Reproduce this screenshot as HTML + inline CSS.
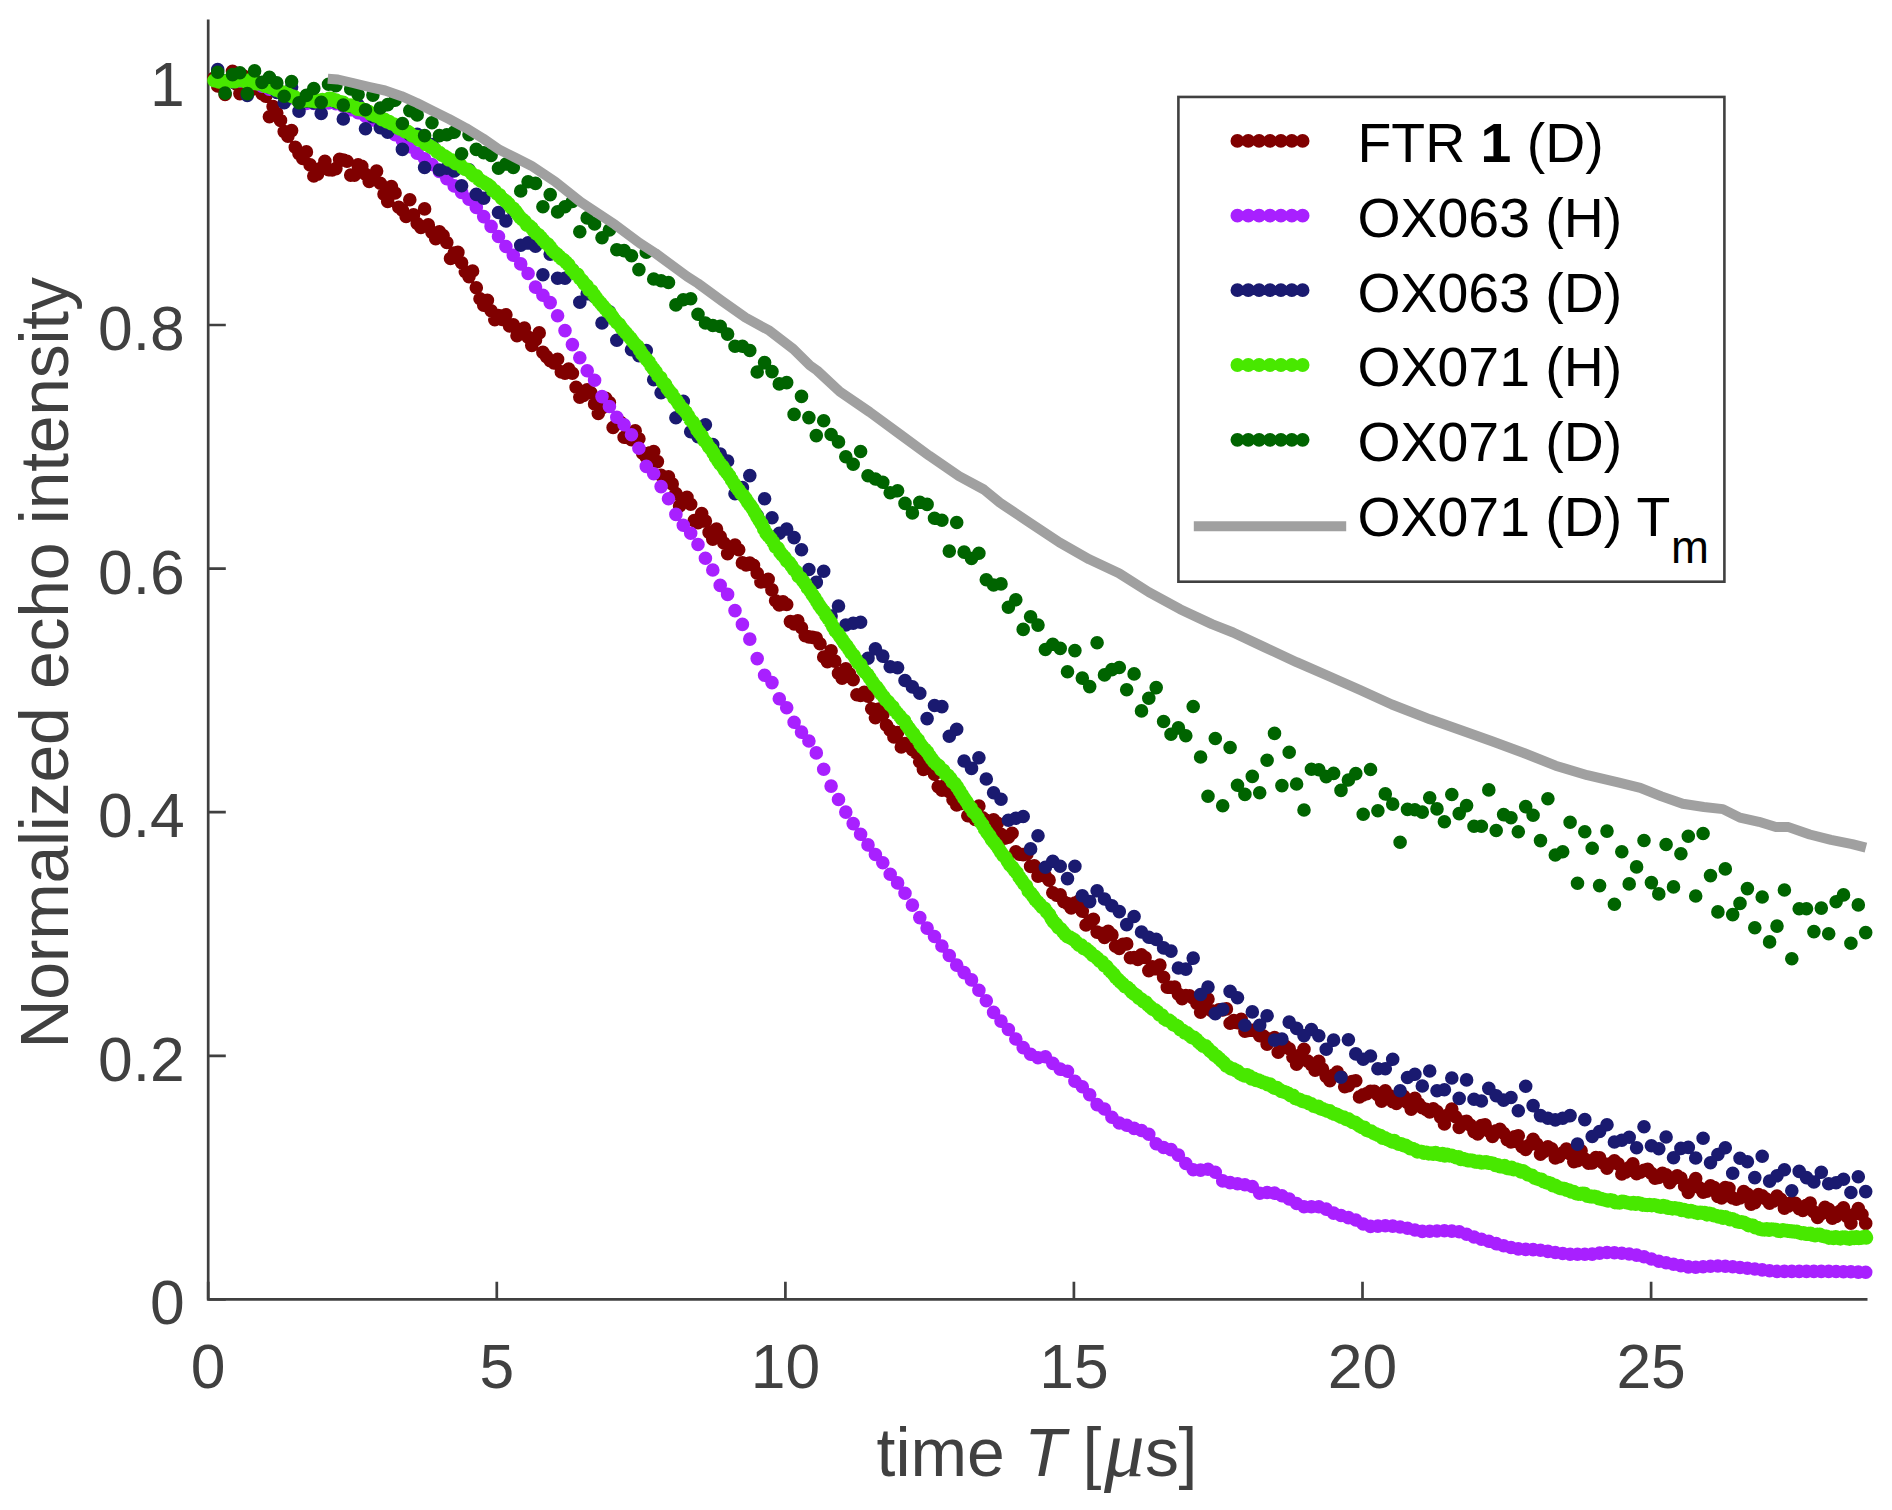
<!DOCTYPE html>
<html><head><meta charset="utf-8"><title>plot</title><style>html,body{margin:0;padding:0;background:#fff}svg{display:block}</style></head><body>
<svg width="1892" height="1510" viewBox="0 0 1892 1510">
<rect width="1892" height="1510" fill="#fff"/>
<path d="M208.2 19.6V1299.4H1867.5" stroke="#404040" stroke-width="2.7" fill="none"/>
<path d="M208.2 1299.4v-17.6M496.8 1299.4v-17.6M785.4 1299.4v-17.6M1073.9 1299.4v-17.6M1362.5 1299.4v-17.6M1651.1 1299.4v-17.6M208.2 1299.4h17.6M208.2 1055.8h17.6M208.2 812.2h17.6M208.2 568.6h17.6M208.2 325h17.6M208.2 81.4h17.6" stroke="#404040" stroke-width="2.7" fill="none"/>
<path d="M214 78h0M217.7 86h0M221.4 82h0M225.1 94.5h0M228.8 80h0M232.5 71.3h0M236.2 84h0M239.9 93.6h0M243.6 76h0M247.3 86h0M250.9 90h0M254.6 80h0M258.3 88h0M262 93.6h0M265.7 96.3h0M269.4 116.7h0M273.1 106.5h0M276.8 113h0M280.5 120.4h0M284.2 131.6h0M287.9 136.2h0M291.6 130.6h0M295.3 147.3h0M299 153.8h0M302.7 158.4h0M306.4 151.9h0M310.1 164.9h0M313.8 176h0M317.5 174.2h0M321.2 168h0M324.9 161.2h0M328.5 169.6h0M332.2 170h0M335.9 168.6h0M339.6 159.4h0M343.3 160h0M347 161.2h0M350.7 175.1h0M354.4 175.1h0M358.1 164.9h0M361.8 166.4h0M365.5 174.3h0M369.2 181.4h0M372.9 176.9h0M376.6 171.1h0M380.3 183.3h0M384 194.1h0M387.7 201.5h0M391.4 186.6h0M395.1 193h0M398.8 207.2h0M402.4 210.3h0M406.1 216.4h0M409.8 199.8h0M413.5 214.9h0M417.2 223.5h0M420.9 227.5h0M424.6 208.9h0M428.3 224.9h0M432 232.5h0M435.7 238.8h0M439.4 231.9h0M443.1 235.6h0M446.8 242.5h0M450.5 258.5h0M454.2 253.1h0M457.9 252.3h0M461.6 262.7h0M465.3 271.7h0M469 276.6h0M472.6 271h0M476.3 287.7h0M480 298.8h0M483.7 305.1h0M487.4 300.2h0M491.1 310.7h0M494.8 319.7h0M498.5 315.5h0M502.2 319.4h0M505.9 314.8h0M509.6 326h0M513.3 324.9h0M517 335.7h0M520.7 330.1h0M524.4 328.1h0M528.1 337.1h0M531.8 345.4h0M535.5 339.9h0M539.2 332.9h0M542.9 352.4h0M546.5 356.6h0M550.2 360.7h0M553.9 362.9h0M557.6 359.3h0M561.3 371.9h0M565 373.3h0M568.7 369.1h0M572.4 373.3h0M576.1 387.2h0M579.8 397.1h0M583.5 395.5h0M587.2 389.9h0M590.9 392.7h0M594.6 403.9h0M598.3 413.5h0M602 408h0M605.7 398.3h0M609.4 402.5h0M613.1 427.5h0M616.8 423.7h0M620.5 422.2h0M624.1 437.2h0M627.8 437.4h0M631.5 439.7h0M635.2 430.9h0M638.9 438.7h0M642.6 453.1h0M646.3 457h0M650 452.9h0M653.7 451.5h0M657.4 461.6h0M661.1 475.2h0M664.8 479.7h0M668.5 476.7h0M672.2 483.9h0M675.9 493.5h0M679.6 505.9h0M683.3 501h0M687 497.2h0M690.7 504.3h0M694.3 520.6h0M698 522.7h0M701.7 513.5h0M705.4 521.1h0M709.1 532.4h0M712.8 539.2h0M716.5 529.1h0M720.2 536.6h0M723.9 543h0M727.6 553.6h0M731.3 547.9h0M735 545.1h0M738.7 549.7h0M742.4 562.9h0M746.1 564.9h0M749.8 563h0M753.5 565.3h0M757.2 573.2h0M760.9 581.9h0M764.6 581.5h0M768.2 579.2h0M771.9 589.9h0M775.6 600.8h0M779.3 604.9h0M783 601.8h0M786.7 604.5h0M790.4 621.6h0M794.1 623.9h0M797.8 620.8h0M801.5 627.7h0M805.2 635.8h0M808.9 636.9h0M812.6 637.4h0M816.3 638.1h0M820 643.7h0M823.7 657h0M827.4 661.6h0M831.1 650.7h0M834.8 661.1h0M838.5 673.4h0M842.1 678.1h0M845.8 668.7h0M849.5 673.8h0M853.2 679.7h0M856.9 694.8h0M860.6 695.5h0M864.3 692.2h0M868 696.2h0M871.7 708.8h0M875.4 717.8h0M879.1 709h0M882.8 714.8h0M886.5 725.3h0M890.2 730.2h0M893.9 736.9h0M897.6 732.6h0M901.3 747h0M905 743.6h0M908.7 744.1h0M912.4 749.8h0M916 752.8h0M919.7 761.8h0M923.4 769.4h0M927.1 761.2h0M930.8 765.5h0M934.5 774.2h0M938.2 786.7h0M941.9 790.2h0M945.6 784.6h0M949.3 791.6h0M953 799.8h0M956.7 805h0M960.4 803.6h0M964.1 802.7h0M967.8 815.8h0M971.5 814.6h0M975.2 819.5h0M978.9 806h0M982.6 817.8h0M986.3 820.3h0M989.9 828.9h0M993.6 819.7h0M997.3 823.1h0M1001 834.4h0M1004.7 838.3h0M1008.4 837.3h0M1012.1 833.3h0M1015.8 851.7h0M1019.5 854.1h0M1023.2 854.6h0M1026.9 853.9h0M1030.6 866.4h0M1034.3 865.7h0M1038 876.3h0M1041.7 870.7h0M1045.4 876.1h0M1049.1 880.1h0M1052.8 892.8h0M1056.5 895.1h0M1060.2 894.9h0M1063.8 901.8h0M1067.5 903.6h0M1071.2 908h0M1074.9 903.1h0M1078.6 901.3h0M1082.3 911.3h0M1086 925h0M1089.7 921.1h0M1093.4 919.3h0M1097.1 932.1h0M1100.8 933.3h0M1104.5 937.4h0M1108.2 931.4h0M1111.9 934.9h0M1115.6 946.3h0M1119.3 948.5h0M1123 944.3h0M1126.7 943.9h0M1130.4 957.8h0M1134.1 957.6h0M1137.8 959.4h0M1141.4 954.9h0M1145.1 957.5h0M1148.8 970.6h0M1152.5 966.9h0M1156.2 968.8h0M1159.9 965.1h0M1163.6 977.3h0M1167.3 987.2h0M1171 987.2h0M1174.7 987.1h0M1178.4 994.1h0M1182.1 998.7h0M1185.8 995.6h0M1189.5 995.8h0M1193.2 998.1h0M1196.9 1003.4h0M1200.6 1012.1h0M1204.3 1004.3h0M1208 999h0M1211.7 1010.8h0M1215.3 1011.3h0M1219 1009.7h0M1222.7 1010h0M1226.4 1008.9h0M1230.1 1023.3h0M1233.8 1020.5h0M1237.5 1022.7h0M1241.2 1019.2h0M1244.9 1031.1h0M1248.6 1030.5h0M1252.3 1030.2h0M1256 1031.2h0M1259.7 1035.7h0M1263.4 1036.1h0M1267.1 1044.1h0M1270.8 1038.9h0M1274.5 1037.5h0M1278.2 1052.2h0M1281.9 1047.7h0M1285.5 1046.2h0M1289.2 1048.8h0M1292.9 1057.1h0M1296.6 1064.2h0M1300.3 1054.9h0M1304 1049.2h0M1307.7 1061.1h0M1311.4 1064.6h0M1315.1 1070.3h0M1318.8 1061.4h0M1322.5 1069h0M1326.2 1076.4h0M1329.9 1080.7h0M1333.6 1075.1h0M1337.3 1072h0M1341 1076.7h0M1344.7 1086.8h0M1348.4 1085.8h0M1352.1 1081.5h0M1355.8 1080.8h0M1359.5 1096.9h0M1363.1 1094.9h0M1366.8 1093.6h0M1370.5 1091.4h0M1374.2 1091.2h0M1377.9 1095h0M1381.6 1101.3h0M1385.3 1090.7h0M1389 1095.2h0M1392.7 1101.7h0M1396.4 1103.5h0M1400.1 1093.3h0M1403.8 1096.3h0M1407.5 1102.8h0M1411.2 1109.1h0M1414.9 1098.2h0M1418.6 1103.9h0M1422.3 1107.7h0M1426 1109.4h0M1429.7 1111.9h0M1433.3 1108.8h0M1437 1111.5h0M1440.7 1117.3h0M1444.4 1123.9h0M1448.1 1114.7h0M1451.8 1109.1h0M1455.5 1116.8h0M1459.2 1127.5h0M1462.9 1122.1h0M1466.6 1121.3h0M1470.3 1125.1h0M1474 1131.8h0M1477.7 1134h0M1481.4 1125.5h0M1485.1 1124.9h0M1488.8 1131.1h0M1492.5 1136.5h0M1496.2 1130.8h0M1499.9 1129.4h0M1503.6 1133.2h0M1507.2 1139.6h0M1510.9 1142h0M1514.6 1136.7h0M1518.3 1135.7h0M1522 1146.7h0M1525.7 1149.4h0M1529.4 1145h0M1533.1 1139.3h0M1536.8 1144.1h0M1540.5 1154.3h0M1544.2 1151.4h0M1547.9 1146.8h0M1551.6 1148.8h0M1555.3 1157.9h0M1559 1156.8h0M1562.7 1152.8h0M1566.4 1149.1h0M1570.1 1153.9h0M1573.8 1161.7h0M1577.5 1160.7h0M1581.1 1150.8h0M1584.8 1159h0M1588.5 1163.2h0M1592.2 1162.9h0M1595.9 1157.5h0M1599.6 1157.9h0M1603.3 1163.2h0M1607 1168.1h0M1610.7 1163.6h0M1614.4 1160.9h0M1618.1 1163.9h0M1621.8 1174h0M1625.5 1172.3h0M1629.2 1167.6h0M1632.9 1163.8h0M1636.6 1173.8h0M1640.3 1172.1h0M1644 1170.2h0M1647.7 1169.2h0M1651.4 1173.4h0M1655 1178.2h0M1658.7 1177.5h0M1662.4 1173.4h0M1666.1 1174.8h0M1669.8 1182.8h0M1673.5 1178.7h0M1677.2 1175.9h0M1680.9 1178h0M1684.6 1186h0M1688.3 1192.5h0M1692 1184h0M1695.7 1178.6h0M1699.4 1187.8h0M1703.1 1192.2h0M1706.8 1191.2h0M1710.5 1185.9h0M1714.2 1187.5h0M1717.9 1196.4h0M1721.6 1198h0M1725.3 1187.6h0M1729 1188.2h0M1732.6 1197.9h0M1736.3 1199.3h0M1740 1198h0M1743.7 1191.5h0M1747.4 1194h0M1751.1 1204.1h0M1754.8 1202.8h0M1758.5 1194.5h0M1762.2 1195.7h0M1765.9 1198.9h0M1769.6 1203.2h0M1773.3 1201.1h0M1777 1196h0M1780.7 1199.3h0M1784.4 1208.3h0M1788.1 1206.3h0M1791.8 1202.2h0M1795.5 1203.2h0M1799.2 1208.7h0M1802.8 1210.4h0M1806.5 1205.4h0M1810.2 1203h0M1813.9 1211.9h0M1817.6 1217.5h0M1821.3 1213.8h0M1825 1207.2h0M1828.7 1209.3h0M1832.4 1218.3h0M1836.1 1216.4h0M1839.8 1211.4h0M1843.5 1207.7h0M1847.2 1216.6h0M1850.9 1223.3h0M1854.6 1214h0M1858.3 1208.5h0M1862 1214.6h0M1865.7 1223.4h0" stroke="#800000" stroke-width="13.6" stroke-linecap="round" fill="none"/>
<path d="M217.7 81h0M225.1 81h0M232.5 81h0M239.9 81h0M247.3 81.4h0M254.6 83.4h0M262 86.3h0M269.4 89.2h0M276.8 91.9h0M284.2 94.7h0M291.6 97.7h0M299 101.3h0M306.4 103.5h0M313.8 103.4h0M321.2 103.2h0M328.5 103h0M335.9 103.6h0M343.3 106.2h0M350.7 109.6h0M358.1 112.8h0M365.5 116.1h0M372.9 119.9h0M380.3 124.3h0M387.7 129.2h0M395.1 134.6h0M402.4 140.4h0M409.8 146.8h0M417.2 153.2h0M424.6 158.7h0M432 164.5h0M439.4 171.5h0M446.8 178.6h0M454.2 185.9h0M461.6 192.4h0M469 199.2h0M476.3 207.4h0M483.7 216.6h0M491.1 226.4h0M498.5 236.5h0M505.9 246.5h0M513.3 255.2h0M520.7 263.9h0M528.1 273.5h0M535.5 287.1h0M542.9 295.2h0M550.2 302.6h0M557.6 315.8h0M565 330.6h0M572.4 344.6h0M579.8 357.7h0M587.2 370.7h0M594.6 380.3h0M602 396.6h0M609.4 406.5h0M616.8 417.3h0M624.1 424.7h0M631.5 434.7h0M638.9 448.3h0M646.3 466.4h0M653.7 473.8h0M661.1 486.6h0M668.5 498.8h0M675.9 514.4h0M683.3 525.3h0M690.7 533.2h0M698 544.5h0M705.4 558.2h0M712.8 570h0M720.2 585.4h0M727.6 594.4h0M735 610.6h0M742.4 624.4h0M749.8 639.1h0M757.2 658.6h0M764.6 675.3h0M772 682.6h0M779.3 698.8h0M786.7 707.7h0M794.1 722.3h0M801.5 732.1h0M808.9 741h0M816.3 752.9h0M823.7 769.3h0M831.1 786.1h0M838.5 799.5h0M845.8 812.1h0M853.2 823.6h0M860.6 834.2h0M868 844.9h0M875.4 854.5h0M882.8 862.8h0M890.2 874.3h0M897.6 882.9h0M905 893.2h0M912.4 905.1h0M919.8 917.6h0M927.1 928.1h0M934.5 936.5h0M941.9 946h0M949.3 955.5h0M956.7 965.1h0M964.1 972.6h0M971.5 979.9h0M978.9 990.3h0M986.3 1000.8h0M993.6 1012.4h0M1001 1021.1h0M1008.4 1029.5h0M1015.8 1039h0M1023.2 1047.6h0M1030.6 1054.2h0M1038 1057.7h0M1045.4 1056.8h0M1052.8 1063.4h0M1060.2 1069.1h0M1067.5 1071.2h0M1074.9 1081.2h0M1082.3 1086.7h0M1089.7 1094.8h0M1097.1 1104.6h0M1104.5 1109h0M1111.9 1117.2h0M1119.3 1123h0M1126.7 1125.3h0M1134.1 1128.4h0M1141.5 1130.5h0M1148.8 1134.3h0M1156.2 1143.7h0M1163.6 1147.5h0M1171 1149.6h0M1178.4 1155.1h0M1185.8 1163.5h0M1193.2 1169.8h0M1200.6 1170.1h0M1208 1169.2h0M1215.3 1172.2h0M1222.7 1180.9h0M1230.1 1182.6h0M1237.5 1183.7h0M1244.9 1184.7h0M1252.3 1186.5h0M1259.7 1193.3h0M1267.1 1192.5h0M1274.5 1193.1h0M1281.9 1195.8h0M1289.2 1199h0M1296.6 1203.5h0M1304 1206.7h0M1311.4 1206.7h0M1318.8 1206.7h0M1326.2 1209.1h0M1333.6 1213.1h0M1341 1215.5h0M1348.4 1217.6h0M1355.8 1220h0M1363.2 1224h0M1370.5 1226.4h0M1377.9 1226.1h0M1385.3 1225.8h0M1392.7 1226.1h0M1400.1 1227h0M1407.5 1228.2h0M1414.9 1230h0M1422.3 1231.4h0M1429.7 1231.3h0M1437 1231h0M1444.4 1230.8h0M1451.8 1231.1h0M1459.2 1231.8h0M1466.6 1234.2h0M1474 1237h0M1481.4 1239.2h0M1488.8 1241.3h0M1496.2 1243.6h0M1503.6 1245.7h0M1511 1247.5h0M1518.3 1248.9h0M1525.7 1249.4h0M1533.1 1249.6h0M1540.5 1250.2h0M1547.9 1251.4h0M1555.3 1252.5h0M1562.7 1253.5h0M1570.1 1254.2h0M1577.5 1254.2h0M1584.8 1254.2h0M1592.2 1254.1h0M1599.6 1253.1h0M1607 1252.5h0M1614.4 1252.7h0M1621.8 1253.2h0M1629.2 1254h0M1636.6 1255.1h0M1644 1256.7h0M1651.4 1259h0M1658.8 1261.2h0M1666.1 1262.8h0M1673.5 1264.2h0M1680.9 1265.6h0M1688.3 1266.9h0M1695.7 1267.2h0M1703.1 1266.8h0M1710.5 1266.3h0M1717.9 1266h0M1725.3 1266.2h0M1732.7 1266.7h0M1740 1267.5h0M1747.4 1268.3h0M1754.8 1269h0M1762.2 1269.9h0M1769.6 1270.8h0M1777 1271.4h0M1784.4 1271.4h0M1791.8 1271.4h0M1799.2 1271.4h0M1806.5 1271.4h0M1813.9 1271.4h0M1821.3 1271.4h0M1828.7 1271.4h0M1836.1 1271.5h0M1843.5 1271.7h0M1850.9 1271.8h0M1858.3 1272.1h0M1865.7 1272.3h0" stroke="#A820FF" stroke-width="13.6" stroke-linecap="round" fill="none"/>
<path d="M217.7 69.5h0M225.1 80.7h0M232.5 82h0M239.9 80.2h0M247.3 95.4h0M254.6 82.1h0M262 83.1h0M269.4 87.2h0M276.8 92.4h0M284.2 102.8h0M291.6 87h0M299 111.2h0M306.4 101.2h0M313.8 103h0M321.2 113.5h0M328.5 100.1h0M335.9 101.9h0M343.3 119h0M350.7 106.4h0M358.1 105.1h0M365.5 128.7h0M372.9 116.7h0M380.3 127.8h0M387.7 132.1h0M395.1 126.6h0M402.4 149.4h0M409.8 134.7h0M417.2 134.4h0M424.6 167.5h0M432 144.6h0M439.4 170h0M446.8 168.3h0M454.2 170.9h0M461.6 185.8h0M469 169.7h0M476.3 194.4h0M483.7 198.2h0M491.1 188h0M498.5 212.5h0M505.9 221h0M513.3 210.5h0M520.7 245.2h0M528.1 242.9h0M535.5 246.3h0M542.9 274.7h0M550.2 254.1h0M557.6 278.2h0M565 278.2h0M572.4 269.8h0M579.8 302.3h0M587.2 293.7h0M594.6 296.7h0M602 323h0M609.4 311.8h0M616.8 340.2h0M624.1 331.2h0M631.5 349.7h0M638.9 355.7h0M646.3 350.5h0M653.7 379.8h0M661.1 392.7h0M668.5 390.5h0M675.9 417.8h0M683.3 401.4h0M690.7 431.7h0M698 436.6h0M705.4 424.7h0M712.8 444.6h0M720.2 454h0M727.6 461h0M735 493.7h0M742.4 487.6h0M749.8 475.6h0M757.2 515.5h0M764.6 498.8h0M772 517.8h0M779.3 533.3h0M786.7 529h0M794.1 537.6h0M801.5 549.7h0M808.9 569.5h0M816.3 582.4h0M823.7 571.2h0M831.1 616h0M838.5 606h0M845.8 625h0M853.2 623.3h0M860.6 622.2h0M868 658.3h0M875.4 648.7h0M882.8 656.1h0M890.2 666.7h0M897.6 667.8h0M905 680.5h0M912.4 686.9h0M919.8 693.2h0M927.1 718.6h0M934.5 705.5h0M941.9 706.6h0M949.3 736.2h0M956.7 729.2h0M964.1 761h0M971.5 768.4h0M978.9 757.8h0M986.3 779h0M993.6 792.8h0M1001 799.2h0M1008.4 820.3h0M1015.8 818.2h0M1023.2 816.5h0M1030.6 848.9h0M1038 835.8h0M1045.4 867.2h0M1052.8 861.3h0M1060.2 866.2h0M1067.5 878.6h0M1074.9 866.2h0M1082.3 895.8h0M1089.7 901.6h0M1097.1 890.7h0M1104.5 899h0M1111.9 905.8h0M1119.3 911.6h0M1126.7 924.6h0M1134.1 916.5h0M1141.5 932h0M1148.8 937.3h0M1156.2 939.4h0M1163.6 947.9h0M1171 951.1h0M1178.4 968h0M1185.8 969.1h0M1193.2 958.1h0M1200.6 994.5h0M1208 987.1h0M1215.3 1013.6h0M1222.7 1009.4h0M1230.1 991.4h0M1237.5 997.7h0M1244.9 1025.3h0M1252.3 1011.9h0M1259.7 1025.3h0M1267.1 1015.7h0M1274.5 1040.1h0M1281.9 1039h0M1289.2 1022.1h0M1296.6 1028.4h0M1304 1035.8h0M1311.4 1029.5h0M1318.8 1035.8h0M1326.2 1049.2h0M1333.6 1040.1h0M1341 1077.2h0M1348.4 1039.7h0M1355.8 1053.9h0M1363.2 1059.2h0M1370.5 1056h0M1377.9 1068.7h0M1385.3 1068.7h0M1392.7 1059.2h0M1400.1 1090.8h0M1407.5 1077.5h0M1414.9 1074.2h0M1422.3 1086h0M1429.7 1071h0M1437 1090.7h0M1444.4 1089.8h0M1451.8 1078h0M1459.2 1098.4h0M1466.6 1079.9h0M1474 1099.2h0M1481.4 1101h0M1488.8 1088.4h0M1496.2 1095.8h0M1503.6 1100.1h0M1511 1097.5h0M1518.3 1110.8h0M1525.7 1086.3h0M1533.1 1105.6h0M1540.5 1115.6h0M1547.9 1118.2h0M1555.3 1119.9h0M1562.7 1118.2h0M1570.1 1115.6h0M1577.5 1144.1h0M1584.8 1119.6h0M1592.2 1136.5h0M1599.6 1131.5h0M1607 1124.7h0M1614.4 1142h0M1621.8 1140.2h0M1629.2 1137.3h0M1636.6 1147.7h0M1644 1126.7h0M1651.4 1145.8h0M1658.8 1148.7h0M1666.1 1137h0M1673.5 1157.7h0M1680.9 1148.4h0M1688.3 1147.4h0M1695.7 1158h0M1703.1 1138.2h0M1710.5 1162.8h0M1717.9 1154.5h0M1725.3 1147.7h0M1732.7 1173.2h0M1740 1158.3h0M1747.4 1161.8h0M1754.8 1177.6h0M1762.2 1156.2h0M1769.6 1181.1h0M1777 1175.8h0M1784.4 1169.7h0M1791.8 1190.7h0M1799.2 1171.4h0M1806.5 1177.6h0M1813.9 1182h0M1821.3 1172.3h0M1828.7 1183.7h0M1836.1 1182.8h0M1843.5 1179.3h0M1850.9 1192.5h0M1858.3 1176.7h0M1865.7 1191.6h0" stroke="#1A1A70" stroke-width="13.6" stroke-linecap="round" fill="none"/>
<path d="M214.3 80.4h0M216.6 80.9h0M218.9 81.7h0M221.2 81.1h0M223.5 81.3h0M225.8 81.5h0M228.1 80.7h0M230.4 81.2h0M232.7 81.3h0M235 81.4h0M237.3 80h0M239.6 80.2h0M241.9 79.8h0M244.2 81.1h0M246.5 81.1h0M248.8 80.3h0M251.1 82.5h0M253.4 83.1h0M255.7 83.1h0M258 83.6h0M260.3 83.5h0M262.6 84.1h0M264.9 85.9h0M267.2 86h0M269.5 87.1h0M271.8 87.9h0M274.1 88.3h0M276.4 89.9h0M278.7 90.6h0M281 92.1h0M283.3 92.4h0M285.6 93.5h0M287.9 94.2h0M290.2 95.6h0M292.5 96.4h0M294.8 97.2h0M297.1 99.5h0M299.4 100.2h0M301.7 100.4h0M304 100.6h0M306.3 100.3h0M308.6 100.4h0M310.9 100.7h0M313.2 100.3h0M315.5 101.4h0M317.8 100.5h0M320.1 101.1h0M322.4 99.9h0M324.7 100.7h0M327 100.2h0M329.3 98.5h0M331.6 98.9h0M333.9 100.5h0M336.2 100.4h0M338.5 102.2h0M340.8 102.1h0M343.1 102.5h0M345.4 104.5h0M347.7 105.5h0M350 105.3h0M352.3 105.7h0M354.6 106.9h0M356.9 108.8h0M359.2 109.2h0M361.5 108.9h0M363.8 110h0M366.1 110.7h0M368.4 111.6h0M370.7 114h0M373 113.9h0M375.3 115.7h0M377.6 116.6h0M379.9 117.3h0M382.2 119.4h0M384.5 119.5h0M386.8 121.6h0M389.1 121.8h0M391.4 123.5h0M393.7 124.3h0M396 125.6h0M398.3 128.1h0M400.6 129h0M402.9 129.3h0M405.2 131.6h0M407.5 131.6h0M409.8 133.2h0M412.1 135.4h0M414.4 136.3h0M416.7 136.8h0M419 139.8h0M421.3 139.9h0M423.6 141.6h0M425.9 144.2h0M428.2 145h0M430.5 146.7h0M432.8 147.9h0M435.1 149.6h0M437.4 152h0M439.7 152.9h0M442 155h0M444.3 156h0M446.6 157.5h0M448.9 159.7h0M451.2 160.2h0M453.5 161.7h0M455.8 163.5h0M458.1 163.7h0M460.4 165h0M462.7 167.8h0M465 169.1h0M467.3 169.7h0M469.6 171.2h0M471.9 173.8h0M474.2 175.8h0M476.5 176.1h0M478.8 179.2h0M481.1 180.9h0M483.4 182.2h0M485.7 183.7h0M488 184.9h0M490.3 186.7h0M492.6 190.3h0M494.9 191h0M497.2 193.8h0M499.5 195.1h0M501.8 198.2h0M504.1 200h0M506.4 201.7h0M508.7 203.9h0M511 207.2h0M513.3 208.5h0M515.6 211.3h0M517.9 214.4h0M520.2 217.4h0M522.5 219.5h0M524.8 221.4h0M527.1 225h0M529.4 226.1h0M531.7 228.1h0M534 230.9h0M536.3 233.6h0M538.6 235.1h0M540.9 237.6h0M543.2 240.2h0M545.5 242.8h0M547.8 244.3h0M550.1 247h0M552.4 250.2h0M554.7 252.6h0M557 254.3h0M559.3 256.6h0M561.6 258.7h0M563.9 260.2h0M566.2 262.4h0M568.5 264.8h0M570.8 268.8h0M573.1 270.9h0M575.4 273.8h0M577.7 274.7h0M580 278.4h0M582.3 280.8h0M584.6 283.9h0M586.9 285.9h0M589.2 289.9h0M591.5 291h0M593.8 294.6h0M596.1 297.7h0M598.4 300.8h0M600.7 303.2h0M603 305.9h0M605.3 308.7h0M607.6 311.6h0M609.9 313.3h0M612.2 316.6h0M614.5 319.7h0M616.8 322.4h0M619.1 324.3h0M621.4 327.7h0M623.7 330.6h0M626 332.9h0M628.3 335.8h0M630.6 338.2h0M632.9 341.4h0M635.2 344.3h0M637.5 346.3h0M639.8 350.3h0M642.1 353.9h0M644.4 356.7h0M646.7 359.5h0M649 362.1h0M651.3 365.9h0M653.6 368.9h0M655.9 371.9h0M658.2 375.9h0M660.5 377.8h0M662.8 382.3h0M665.1 384.2h0M667.4 388.4h0M669.7 391.4h0M672 394h0M674.3 397.9h0M676.6 400.6h0M678.9 403.9h0M681.2 407.5h0M683.5 409.4h0M685.8 412.1h0M688.1 415.8h0M690.4 419.7h0M692.7 422.1h0M695 425.4h0M697.3 430.1h0M699.6 433.1h0M701.9 436.1h0M704.2 440.4h0M706.5 442.8h0M708.8 446.8h0M711.1 449.3h0M713.4 453.1h0M715.7 457.2h0M718 460.7h0M720.3 464h0M722.6 466.5h0M724.9 470.2h0M727.2 473.1h0M729.5 476h0M731.8 480h0M734.1 483.8h0M736.4 487h0M738.7 489.9h0M741 493.4h0M743.3 495.4h0M745.6 498.4h0M747.9 502.2h0M750.2 505.2h0M752.5 508.5h0M754.8 512.5h0M757.1 516.7h0M759.4 520.4h0M761.7 524.1h0M764 529.1h0M766.3 533.2h0M768.6 536h0M770.9 538.8h0M773.2 542h0M775.5 546.7h0M777.8 548.2h0M780.1 552.3h0M782.4 555h0M784.7 557.4h0M787 561.1h0M789.3 562.7h0M791.6 565.9h0M793.9 569.5h0M796.2 571.7h0M798.5 576.2h0M800.8 578.1h0M803.1 581h0M805.4 583.9h0M807.7 588h0M810 590.8h0M812.3 594.4h0M814.6 597.7h0M816.9 601.4h0M819.2 605.2h0M821.5 608.5h0M823.8 611.3h0M826.1 615.5h0M828.4 618.7h0M830.7 622.2h0M833 626.7h0M835.3 630.7h0M837.6 633.1h0M839.9 636.4h0M842.2 639.7h0M844.5 643.3h0M846.8 646.1h0M849.1 649.4h0M851.4 652.9h0M853.7 655.5h0M856 659.4h0M858.3 662.9h0M860.6 664.7h0M862.9 669.4h0M865.2 672.3h0M867.5 674.4h0M869.8 678.1h0M872.1 681.6h0M874.4 685.1h0M876.7 687.2h0M879 690.5h0M881.3 694h0M883.6 696.8h0M885.9 699.9h0M888.2 701.9h0M890.5 705.1h0M892.8 707.1h0M895.1 710.7h0M897.4 713.6h0M899.7 716h0M902 718.9h0M904.3 720.8h0M906.6 725h0M908.9 728.3h0M911.2 731.5h0M913.5 733.9h0M915.8 737.6h0M918.1 740h0M920.4 744.2h0M922.7 747.2h0M925 749.4h0M927.3 752.1h0M929.6 755.8h0M931.9 758.9h0M934.2 762.1h0M936.5 764.3h0M938.8 765.9h0M941.1 769.6h0M943.4 770.6h0M945.7 774.2h0M948 775.5h0M950.3 778.3h0M952.6 781.9h0M954.9 783.7h0M957.2 786.9h0M959.5 790.8h0M961.8 794.5h0M964.1 798.2h0M966.4 801.4h0M968.7 805.3h0M971 807.9h0M973.3 812.1h0M975.6 814h0M977.9 817.7h0M980.2 821.8h0M982.5 824.8h0M984.8 829.1h0M987.1 832.4h0M989.4 835.6h0M991.7 839.5h0M994 842.3h0M996.3 845.1h0M998.6 848.4h0M1000.9 852.3h0M1003.2 855.5h0M1005.5 857.4h0M1007.8 861.6h0M1010.1 865h0M1012.4 867.3h0M1014.7 870.5h0M1017 873.1h0M1019.3 877h0M1021.6 880.3h0M1023.9 883.8h0M1026.2 886.1h0M1028.5 891h0M1030.8 893.3h0M1033.1 896.2h0M1035.4 899.8h0M1037.7 902h0M1040 904.4h0M1042.3 907.2h0M1044.6 908.5h0M1046.9 911.9h0M1049.2 914.5h0M1051.5 918.7h0M1053.8 922.1h0M1056.1 924.2h0M1058.4 927.4h0M1060.7 929.1h0M1063 931.8h0M1065.3 934.4h0M1067.6 936.4h0M1069.9 937.4h0M1072.2 938.8h0M1074.5 940.2h0M1076.8 942.7h0M1079.1 945h0M1081.4 945.4h0M1083.7 948.3h0M1086 948.8h0M1088.3 950.8h0M1090.6 952.7h0M1092.9 955.3h0M1095.2 956.5h0M1097.5 958.4h0M1099.8 960.9h0M1102.1 962h0M1104.4 965.4h0M1106.7 966.7h0M1109 969.8h0M1111.3 971.9h0M1113.6 974.3h0M1115.9 977.4h0M1118.2 979.7h0M1120.5 981.9h0M1122.8 984.1h0M1125.1 986.4h0M1127.4 987.6h0M1129.7 989.6h0M1132 992.2h0M1134.3 994h0M1136.6 995.6h0M1138.9 997.9h0M1141.2 999.3h0M1143.5 1001.6h0M1145.8 1002.3h0M1148.1 1005.1h0M1150.4 1007.1h0M1152.7 1009.1h0M1155 1010h0M1157.3 1011.8h0M1159.6 1014.7h0M1161.9 1015.3h0M1164.2 1018.4h0M1166.5 1020h0M1168.8 1020.3h0M1171.1 1022.1h0M1173.4 1024.6h0M1175.7 1025.4h0M1178 1026.7h0M1180.3 1029.6h0M1182.6 1030.5h0M1184.9 1032.7h0M1187.2 1033.2h0M1189.5 1035.3h0M1191.8 1037.3h0M1194.1 1037.7h0M1196.4 1039.6h0M1198.7 1042.1h0M1201 1044.1h0M1203.3 1045.9h0M1205.6 1046.1h0M1207.9 1048.6h0M1210.2 1051h0M1212.5 1052.7h0M1214.8 1055.3h0M1217.1 1056.7h0M1219.4 1058.8h0M1221.7 1061h0M1224 1062.9h0M1226.3 1065.7h0M1228.6 1067.1h0M1230.9 1068.6h0M1233.2 1069.1h0M1235.5 1070.3h0M1237.8 1071.4h0M1240.1 1073.6h0M1242.4 1074.8h0M1244.7 1075.7h0M1247 1075.2h0M1249.3 1076.1h0M1251.6 1078.7h0M1253.9 1078.7h0M1256.2 1080.2h0M1258.5 1080.3h0M1260.8 1081.4h0M1263.1 1082.4h0M1265.4 1083.1h0M1267.7 1084.4h0M1270 1084.3h0M1272.3 1086.5h0M1274.6 1087.9h0M1276.9 1087.8h0M1279.2 1089.5h0M1281.5 1091.2h0M1283.8 1091.8h0M1286.1 1092.6h0M1288.4 1093.7h0M1290.7 1095.4h0M1293 1095.6h0M1295.3 1098.2h0M1297.6 1099h0M1299.9 1099.8h0M1302.2 1101.1h0M1304.5 1101.6h0M1306.8 1102.1h0M1309.1 1103.4h0M1311.4 1104.2h0M1313.7 1106h0M1316 1106.6h0M1318.3 1106.5h0M1320.6 1108.6h0M1322.9 1109.2h0M1325.2 1110.1h0M1327.5 1111h0M1329.8 1111.2h0M1332.1 1113h0M1334.4 1113.9h0M1336.7 1114.6h0M1339 1115.8h0M1341.3 1116.9h0M1343.6 1117.3h0M1345.9 1119.1h0M1348.2 1119.1h0M1350.5 1120.8h0M1352.8 1122.2h0M1355.1 1122.6h0M1357.4 1124.3h0M1359.7 1126h0M1362 1127.2h0M1364.3 1127.6h0M1366.6 1130.1h0M1368.9 1130.8h0M1371.2 1131.4h0M1373.5 1133.1h0M1375.8 1134h0M1378.1 1135.1h0M1380.4 1135.8h0M1382.7 1137.9h0M1385 1138.2h0M1387.3 1139.3h0M1389.6 1140.3h0M1391.9 1141.6h0M1394.2 1140.8h0M1396.5 1142.8h0M1398.8 1143.9h0M1401.1 1144h0M1403.4 1145.3h0M1405.7 1145.7h0M1408 1147h0M1410.3 1148.4h0M1412.6 1148.8h0M1414.9 1149.8h0M1417.2 1151.6h0M1419.5 1151.5h0M1421.8 1151.8h0M1424.1 1153h0M1426.4 1152.6h0M1428.7 1153.6h0M1431 1153.3h0M1433.3 1153.9h0M1435.6 1152.9h0M1437.9 1154.2h0M1440.2 1154.8h0M1442.5 1153.8h0M1444.8 1155.7h0M1447.1 1154.7h0M1449.4 1155.6h0M1451.7 1155.5h0M1454 1156.6h0M1456.3 1157.4h0M1458.6 1157h0M1460.9 1159.2h0M1463.2 1158.9h0M1465.5 1159.7h0M1467.8 1160.4h0M1470.1 1160.4h0M1472.4 1160.6h0M1474.7 1161.6h0M1477 1161.8h0M1479.3 1161.6h0M1481.6 1162.7h0M1483.9 1162.3h0M1486.2 1162.1h0M1488.5 1163h0M1490.8 1163h0M1493.1 1163.7h0M1495.4 1165.2h0M1497.7 1165h0M1500 1166.4h0M1502.3 1166.6h0M1504.6 1165.9h0M1506.9 1168.1h0M1509.2 1168.5h0M1511.5 1167.5h0M1513.8 1169.5h0M1516.1 1169.3h0M1518.4 1170h0M1520.7 1171.6h0M1523 1171.1h0M1525.3 1172.5h0M1527.6 1174.3h0M1529.9 1175.1h0M1532.2 1175.7h0M1534.5 1177.8h0M1536.8 1178.6h0M1539.1 1179.3h0M1541.4 1179.5h0M1543.7 1181.5h0M1546 1182.3h0M1548.3 1182.9h0M1550.6 1183.6h0M1552.9 1185.5h0M1555.2 1185.6h0M1557.5 1187h0M1559.8 1188.1h0M1562.1 1188.5h0M1564.4 1188.8h0M1566.7 1190h0M1569 1190.4h0M1571.3 1191.7h0M1573.6 1191.8h0M1575.9 1193.3h0M1578.2 1193.8h0M1580.5 1193.9h0M1582.8 1193.6h0M1585.1 1193.9h0M1587.4 1195.9h0M1589.7 1196.3h0M1592 1196.6h0M1594.3 1196.7h0M1596.6 1197.2h0M1598.9 1198.5h0M1601.2 1198.9h0M1603.5 1199.5h0M1605.8 1200.1h0M1608.1 1200.7h0M1610.4 1200.1h0M1612.7 1200.6h0M1615 1202.3h0M1617.3 1202.5h0M1619.6 1202.7h0M1621.9 1201.5h0M1624.2 1201.8h0M1626.5 1202.5h0M1628.8 1203h0M1631.1 1203.6h0M1633.4 1202.9h0M1635.7 1203.9h0M1638 1203.2h0M1640.3 1203.5h0M1642.6 1204.8h0M1644.9 1204.8h0M1647.2 1205.1h0M1649.5 1204.9h0M1651.8 1205.3h0M1654.1 1205h0M1656.4 1205.5h0M1658.7 1206.5h0M1661 1206.9h0M1663.3 1205.9h0M1665.6 1206.3h0M1667.9 1207.9h0M1670.2 1207.9h0M1672.5 1208.6h0M1674.8 1208h0M1677.1 1208.7h0M1679.4 1208.8h0M1681.7 1210.2h0M1684 1209.8h0M1686.3 1210.7h0M1688.6 1211.7h0M1690.9 1210.9h0M1693.2 1211.7h0M1695.5 1212.4h0M1697.8 1213.1h0M1700.1 1212.6h0M1702.4 1212.9h0M1704.7 1212.8h0M1707 1214.6h0M1709.3 1213.6h0M1711.6 1214.1h0M1713.9 1215.4h0M1716.2 1215.8h0M1718.5 1216.7h0M1720.8 1216.5h0M1723.1 1217.9h0M1725.4 1217.2h0M1727.7 1218.1h0M1730 1219.4h0M1732.3 1219h0M1734.6 1220h0M1736.9 1221.4h0M1739.2 1222h0M1741.5 1222h0M1743.8 1222.6h0M1746.1 1223.8h0M1748.4 1225.3h0M1750.7 1225.4h0M1753 1225.7h0M1755.3 1227.4h0M1757.6 1227.8h0M1759.9 1228.9h0M1762.2 1229.4h0M1764.5 1229.6h0M1766.8 1229h0M1769.1 1229.9h0M1771.4 1229.3h0M1773.7 1229.5h0M1776 1229.8h0M1778.3 1231h0M1780.6 1231.1h0M1782.9 1230.1h0M1785.2 1230.5h0M1787.5 1230.8h0M1789.8 1231.1h0M1792.1 1231.4h0M1794.4 1231.7h0M1796.7 1231.6h0M1799 1232.6h0M1801.3 1233.3h0M1803.6 1233.2h0M1805.9 1234h0M1808.2 1233.9h0M1810.5 1233.5h0M1812.8 1234.9h0M1815.1 1235.4h0M1817.4 1234.6h0M1819.7 1234.6h0M1822 1235.8h0M1824.3 1236.3h0M1826.6 1236.7h0M1828.9 1237.8h0M1831.2 1237.6h0M1833.5 1238.2h0M1835.8 1237.1h0M1838.1 1238.1h0M1840.4 1238.6h0M1842.7 1237.4h0M1845 1237.3h0M1847.3 1238.5h0M1849.6 1238.8h0M1851.9 1237.3h0M1854.2 1238.2h0M1856.5 1237.2h0M1858.8 1238.2h0M1861.1 1237.9h0M1863.4 1237h0M1865.7 1236.7h0M1866.2 1237.7h0" stroke="#48E800" stroke-width="14.2" stroke-linecap="round" fill="none"/>
<path d="M217.7 72.2h0M225.1 93.1h0M232.5 74.6h0M239.9 72.7h0M247.3 93.6h0M254.6 70.9h0M262 82.4h0M269.4 77.3h0M276.8 82.9h0M284.2 96.3h0M291.6 81.5h0M299 102.8h0M306.4 95.4h0M313.8 88.5h0M321.2 102.4h0M328.5 84.3h0M335.9 85.7h0M343.3 105.1h0M350.7 88.9h0M358.1 94.5h0M365.5 109.8h0M372.9 95.1h0M380.3 108h0M387.7 104.6h0M395.1 100.3h0M402.4 123.5h0M409.8 110.6h0M417.2 114.9h0M424.6 135.6h0M432 122.7h0M439.4 135.6h0M446.8 134.7h0M454.2 132.1h0M461.6 153.7h0M469 134.7h0M476.3 149.4h0M483.7 152.8h0M491.1 155.4h0M498.5 168.3h0M505.9 164h0M513.3 167.5h0M520.7 191h0M528.1 181.7h0M535.5 183.4h0M542.9 206.7h0M550.2 194.6h0M557.6 211.9h0M565 206.7h0M572.4 201.5h0M579.8 231.7h0M587.2 217.9h0M594.6 223.9h0M602 237.7h0M609.4 230h0M616.8 249.8h0M624.1 250.6h0M631.5 255.8h0M638.9 269.6h0M646.3 252.3h0M653.7 279h0M661.1 280.8h0M668.5 282.5h0M675.9 304.9h0M683.3 299.7h0M690.7 298.8h0M698 314.3h0M705.4 323h0M712.8 325.5h0M720.2 326.4h0M727.6 334.1h0M735 346.2h0M742.4 346.2h0M749.8 350.5h0M757.2 372h0M764.6 362.6h0M772 371.6h0M779.3 383.9h0M786.7 382.6h0M794.1 414.4h0M801.5 396.4h0M808.9 417.6h0M816.3 435.6h0M823.7 420.8h0M831.1 434.5h0M838.5 441.9h0M845.8 456.8h0M853.2 464.2h0M860.6 451.5h0M868 475.8h0M875.4 479h0M882.8 482.2h0M890.2 492.8h0M897.6 490.7h0M905 503.4h0M912.4 512.9h0M919.8 502.3h0M927.1 504.4h0M934.5 518.2h0M941.9 520.3h0M949.3 551.1h0M956.7 522.5h0M964.1 552.1h0M971.5 558.5h0M978.9 553.2h0M986.3 579.7h0M993.6 585h0M1001 583.9h0M1008.4 607.2h0M1015.8 599.8h0M1023.2 629.4h0M1030.6 616.7h0M1038 625.1h0M1045.4 649.5h0M1052.8 644.2h0M1060.2 648.4h0M1067.5 671.7h0M1074.9 650.6h0M1082.3 678.1h0M1089.7 686.6h0M1097.1 642.7h0M1104.5 674.9h0M1111.9 669.6h0M1119.3 667.5h0M1126.7 689.7h0M1134.1 673.9h0M1141.5 710.9h0M1148.8 698.2h0M1156.2 687.6h0M1163.6 721.5h0M1171 734.2h0M1178.4 727.9h0M1185.8 735.8h0M1193.2 706.5h0M1200.6 757h0M1208 796.2h0M1215.3 738.5h0M1222.7 805.8h0M1230.1 747.5h0M1237.5 785.3h0M1244.9 794.4h0M1252.3 776.4h0M1259.7 792.8h0M1267.1 760.2h0M1274.5 733.4h0M1281.9 785.6h0M1289.2 752.3h0M1296.6 784h0M1304 810h0M1311.4 769.2h0M1318.8 769.7h0M1326.2 776.6h0M1333.6 773.4h0M1341 790.4h0M1348.4 780h0M1355.8 773.6h0M1363.2 814.2h0M1370.5 769.5h0M1377.9 810.8h0M1385.3 793.9h0M1392.7 804.1h0M1400.1 842.2h0M1407.5 809.4h0M1414.9 809.8h0M1422.3 812.1h0M1429.7 797.7h0M1437 808.9h0M1444.4 821.7h0M1451.8 794.5h0M1459.2 813.6h0M1466.6 805.6h0M1474 826.3h0M1481.4 826.3h0M1488.8 789.9h0M1496.2 830.5h0M1503.6 814.6h0M1511 817.7h0M1518.3 831.7h0M1525.7 806.6h0M1533.1 815.3h0M1540.5 840.6h0M1547.9 798.8h0M1555.3 855h0M1562.7 851.7h0M1570.1 822.2h0M1577.5 883.3h0M1584.8 831.8h0M1592.2 848.3h0M1599.6 885.6h0M1607 831.1h0M1614.4 904.2h0M1621.8 851.7h0M1629.2 883.9h0M1636.6 866.9h0M1644 840.5h0M1651.4 882.6h0M1658.8 893.9h0M1666.1 844.5h0M1673.5 886.9h0M1680.9 853.8h0M1688.3 836.2h0M1695.7 896h0M1703.1 833.5h0M1710.5 875.6h0M1717.9 911.9h0M1725.3 868.9h0M1732.7 914.6h0M1740 903.4h0M1747.4 888.6h0M1754.8 927.8h0M1762.2 897h0M1769.6 941.9h0M1777 926.1h0M1784.4 890h0M1791.8 958.7h0M1799.2 908.7h0M1806.5 908.7h0M1813.9 931.6h0M1821.3 908.1h0M1828.7 933.7h0M1836.1 901.7h0M1843.5 894.9h0M1850.9 943.2h0M1858.3 904.9h0M1865.7 932.6h0" stroke="#006400" stroke-width="13.6" stroke-linecap="round" fill="none"/>
<path d="M327.8 78.7 L337.9 79.5 L353 83 L369.7 87.1 L385 90.5 L401.5 96.2 L417 103 L433.3 111.3 L449 119 L466 128.1 L483 138.5 L499.5 149.8 L515 157.5 L531.2 165.7 L555.1 181.6 L580.6 202 L615 224.7 L639.5 243 L655.3 253.1 L687.1 276.5 L697.9 283.4 L721.8 300.9 L745.6 317.6 L769.5 330.7 L793.3 349 L810 365.5 L817.1 370.5 L839.8 391.7 L869.6 412 L899.4 433.9 L929.2 455.7 L959 476.1 L983.8 489.5 L999.8 502.7 L1029.6 522.6 L1059.4 542.4 L1089.2 559.3 L1119 573.2 L1148.8 592.1 L1180.1 609.2 L1211.9 624.1 L1233.1 632.5 L1264.8 647.4 L1296.6 662.2 L1328.4 676 L1360.1 690 L1391.9 704.5 L1430 719.3 L1466 732 L1492 741.3 L1523.8 753 L1555.6 765.7 L1587.3 775.2 L1619.1 782.6 L1640.3 787.9 L1661.5 796.4 L1682.7 803.8 L1703.9 807 L1722.9 809.1 L1739.9 817.6 L1758.9 821.8 L1775.9 827.1 L1788.6 827.1 L1809.8 834.5 L1831 839.8 L1852.2 844.1 L1865.9 847.7" stroke="#A0A0A0" stroke-width="10" stroke-linejoin="round" fill="none"/>
<g font-family="Liberation Sans, sans-serif" font-size="62.4" fill="#404040">
<text x="208.2" y="1388.4" text-anchor="middle">0</text>
<text x="496.8" y="1388.4" text-anchor="middle">5</text>
<text x="785.4" y="1388.4" text-anchor="middle">10</text>
<text x="1073.9" y="1388.4" text-anchor="middle">15</text>
<text x="1362.5" y="1388.4" text-anchor="middle">20</text>
<text x="1651.1" y="1388.4" text-anchor="middle">25</text>
<text x="184.8" y="1324.4" text-anchor="end">0</text>
<text x="184.8" y="1080.8" text-anchor="end">0.2</text>
<text x="184.8" y="837.2" text-anchor="end">0.4</text>
<text x="184.8" y="593.6" text-anchor="end">0.6</text>
<text x="184.8" y="350" text-anchor="end">0.8</text>
<text x="184.8" y="106.4" text-anchor="end">1</text>
</g>
<g font-family="Liberation Sans, sans-serif" font-size="67.9" fill="#404040">
<text y="1476"><tspan x="876.6">time </tspan><tspan x="1024.3" font-style="italic">T </tspan><tspan x="1082.6">[</tspan><tspan x="1104.1" font-family="Liberation Serif, DejaVu Serif, serif" font-style="italic" font-size="81">μ</tspan><tspan x="1144.9">s</tspan><tspan x="1178.4">]</tspan></text>
<text transform="translate(67.6 662.9) rotate(-90)" text-anchor="middle" letter-spacing="-0.25">Normalized echo intensity</text>
</g>
<rect x="1178.4" y="96.95" width="546" height="484.75" fill="#fff" stroke="#404040" stroke-width="2.6"/>
<path d="M1237.4 140.9h0M1248.3 140.9h0M1259.1 140.9h0M1270 140.9h0M1280.9 140.9h0M1291.8 140.9h0M1302.6 140.9h0" stroke="#800000" stroke-width="13.8" stroke-linecap="round" fill="none"/>
<path d="M1237.4 215.7h0M1248.3 215.7h0M1259.1 215.7h0M1270 215.7h0M1280.9 215.7h0M1291.8 215.7h0M1302.6 215.7h0" stroke="#A820FF" stroke-width="13.8" stroke-linecap="round" fill="none"/>
<path d="M1237.4 290.2h0M1248.3 290.2h0M1259.1 290.2h0M1270 290.2h0M1280.9 290.2h0M1291.8 290.2h0M1302.6 290.2h0" stroke="#1A1A70" stroke-width="13.8" stroke-linecap="round" fill="none"/>
<path d="M1237.4 365h0M1248.3 365h0M1259.1 365h0M1270 365h0M1280.9 365h0M1291.8 365h0M1302.6 365h0" stroke="#48E800" stroke-width="13.8" stroke-linecap="round" fill="none"/>
<path d="M1237.4 439.8h0M1248.3 439.8h0M1259.1 439.8h0M1270 439.8h0M1280.9 439.8h0M1291.8 439.8h0M1302.6 439.8h0" stroke="#006400" stroke-width="13.8" stroke-linecap="round" fill="none"/>
<path d="M1193.8 526.2H1346.2" stroke="#A0A0A0" stroke-width="10"/>
<g font-family="Liberation Sans, sans-serif" font-size="55.4" fill="#000">
<text x="1357.5" y="162.2">FTR <tspan font-weight="bold">1</tspan> (D)</text>
<text x="1357.5" y="237">OX063 (H)</text>
<text x="1357.5" y="311.5">OX063 (D)</text>
<text x="1357.5" y="386.3">OX071 (H)</text>
<text x="1357.5" y="461.1">OX071 (D)</text>
<text x="1357.5" y="536.3">OX071 (D) T<tspan font-size="45.5" dx="0.6" dy="26.6">m</tspan></text>
</g>
</svg>
</body></html>
